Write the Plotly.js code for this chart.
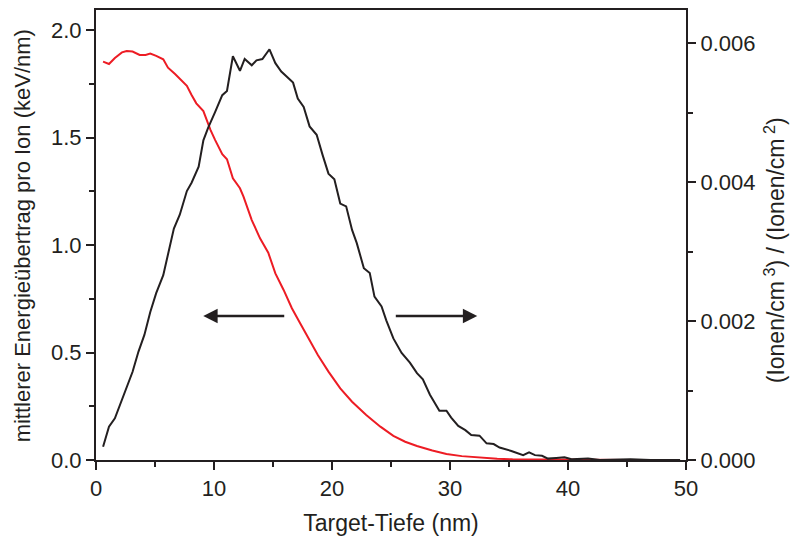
<!DOCTYPE html>
<html>
<head>
<meta charset="utf-8">
<script src="https://cdn.plot.ly/plotly-3.0.1.min.js"></script>
<style>html,body{margin:0;padding:0;background:#fff}#chart{width:792px;height:545px}</style>
</head>
<body>
<div id="chart"></div>
<script>
// Energy transfer per ion (left axis, keV/nm) – red
const depthEnergy = [0.6,1.1,1.6,2.2,2.6,3.1,3.7,4.2,4.6,5.1,5.7,6.1,6.7,7.2,7.7,8.1,8.5,9.1,9.4,9.7,10.1,10.7,11.1,11.6,12.2,12.5,13.2,13.9,14.6,15.2,15.9,16.6,17.3,18.1,18.8,19.7,20.7,21.7,22.9,24.1,25.2,26.2,27.2,28.5,29.7,31.0,32.5,34.0,35.3,37,39,41,43,45,47];
const energyTransfer = [1.853,1.842,1.87,1.896,1.902,1.900,1.884,1.884,1.89,1.88,1.864,1.825,1.795,1.767,1.740,1.698,1.659,1.623,1.578,1.535,1.488,1.422,1.399,1.31,1.264,1.225,1.116,1.031,0.964,0.868,0.791,0.706,0.636,0.558,0.488,0.411,0.333,0.271,0.209,0.155,0.112,0.085,0.065,0.044,0.028,0.018,0.011,0.006,0.003,0.002,0.001,0.0005,0.0003,0.0002,0.0001];

// Ion distribution (right axis) – black
const depthIons = [0.6,1.1,1.6,2.2,2.6,3.1,3.6,4.1,4.6,5.1,5.7,6.1,6.6,7.1,7.5,7.7,8.1,8.7,9.1,9.5,10.1,10.7,11.1,11.6,12.2,12.6,13.2,13.6,14.1,14.7,15.2,15.7,16.2,16.7,17.1,17.6,18.1,18.7,19.2,19.7,20.2,20.7,21.2,21.7,22.1,22.7,23.2,23.6,24.2,24.6,25.2,25.9,26.6,27.2,27.7,28.3,29.1,29.7,30.1,30.7,31.3,31.8,32.5,33.1,33.7,34.2,35.2,36.2,36.7,37.2,37.8,38.3,39.0,39.7,40.3,41.7,42.7,44,45.3,47,49.5];
const ionDensity = [0.00019,0.00048,0.0006,0.00086,0.00103,0.00127,0.00156,0.0018,0.00213,0.0024,0.00266,0.00295,0.00333,0.00353,0.00374,0.00387,0.00399,0.00422,0.0046,0.00478,0.00501,0.00525,0.00531,0.00581,0.0056,0.00577,0.00568,0.00575,0.00577,0.00591,0.00571,0.00559,0.00551,0.00543,0.0052,0.00508,0.0048,0.00468,0.00439,0.00412,0.00404,0.00369,0.00365,0.00331,0.00312,0.00276,0.00269,0.00235,0.00221,0.00201,0.00175,0.00154,0.0014,0.00125,0.00116,0.00094,0.00071,0.00071,0.00061,0.00049,0.00043,0.00036,0.00035,0.00024,0.00023,0.00018,0.00013,0.00007,0.00011,0.00007,0.00006,0.00002,0.00003,0.00004,0.00001,0.00002,0,0.00001,0.00001,0,0];

const xTicks = [0,10,20,30,40,50];
const yLeftTicks = [0,0.5,1.0,1.5,2.0];
const yRightTicks = [0,0.002,0.004,0.006];

const FONT = 'Liberation Sans, Arial, Helvetica, sans-serif';
const AX = '#231f20';

const traces = [
  {x: depthEnergy, y: energyTransfer, type: 'scatter', mode: 'lines', yaxis: 'y',
   line: {color: '#ed1c24', width: 2}, hoverinfo: 'skip'},
  {x: depthIons, y: ionDensity, type: 'scatter', mode: 'lines', yaxis: 'y2',
   line: {color: '#231f20', width: 2}, hoverinfo: 'skip'}
];

const layout = {
  width: 792, height: 545,
  margin: {l: 96, r: 106, t: 10, b: 85},
  paper_bgcolor: '#fff', plot_bgcolor: '#fff',
  showlegend: false,
  font: {family: FONT, size: 22, color: AX},
  xaxis: {
    range: [0, 50], tickvals: xTicks, ticktext: xTicks.map(String),
    showgrid: false, zeroline: false, showline: true, linecolor: AX, linewidth: 2, mirror: true,
    ticks: 'outside', ticklen: 8, tickwidth: 2, tickcolor: AX,
    minor: {dtick: 5, ticks: 'outside', ticklen: 5, tickwidth: 2, tickcolor: AX, showgrid: false},
    tickfont: {size: 22, family: FONT, color: AX},
    title: {text: 'Target-Tiefe (nm)', font: {size: 23, family: FONT, color: AX}, standoff: 14}
  },
  yaxis: {
    range: [0, 2.093], tickvals: yLeftTicks, ticktext: yLeftTicks.map(v => v.toFixed(1)),
    showgrid: false, zeroline: false, showline: true, linecolor: AX, linewidth: 2,
    ticks: 'outside', ticklen: 8, tickwidth: 2, tickcolor: AX,
    minor: {dtick: 0.25, ticks: 'outside', ticklen: 5, tickwidth: 2, tickcolor: AX, showgrid: false},
    tickfont: {size: 22, family: FONT, color: AX}
  },
  yaxis2: {
    overlaying: 'y', side: 'right',
    range: [0, 0.006475], tickvals: yRightTicks, ticktext: yRightTicks.map(v => v.toFixed(3)),
    showgrid: false, zeroline: false, showline: true, linecolor: AX, linewidth: 2,
    ticks: 'outside', ticklen: 8, tickwidth: 2, tickcolor: AX,
    minor: {dtick: 0.001, ticks: 'outside', ticklen: 5, tickwidth: 2, tickcolor: AX, showgrid: false},
    tickfont: {size: 22, family: FONT, color: AX}
  },
  annotations: [
    {text: 'mittlerer Energieübertrag pro Ion (keV/nm)', xref: 'paper', yref: 'paper',
     x: -0.1254, y: 0.497, xanchor: 'center', yanchor: 'middle', textangle: -90, showarrow: false,
     font: {size: 22, family: FONT, color: AX}},
    {text: '(Ionen/cm<sup> 3</sup>) / (Ionen/cm<sup> 2</sup>)', xref: 'paper', yref: 'paper',
     x: 1.1508, y: 0.466, xanchor: 'center', yanchor: 'middle', textangle: -90, showarrow: false,
     font: {size: 23, family: FONT, color: AX}},
    {x: 9.09, y: 0.67, xref: 'x', yref: 'y', ax: 16.08, ay: 0.67, axref: 'x', ayref: 'y',
     text: '', showarrow: true, arrowhead: 2, arrowsize: 1.15, arrowwidth: 2.5, arrowcolor: AX},
    {x: 32.31, y: 0.67, xref: 'x', yref: 'y', ax: 25.28, ay: 0.67, axref: 'x', ayref: 'y',
     text: '', showarrow: true, arrowhead: 2, arrowsize: 1.15, arrowwidth: 2.5, arrowcolor: AX}
  ]
};

Plotly.newPlot('chart', traces, layout, {staticPlot: true, displayModeBar: false});
</script>
</body>
</html>
